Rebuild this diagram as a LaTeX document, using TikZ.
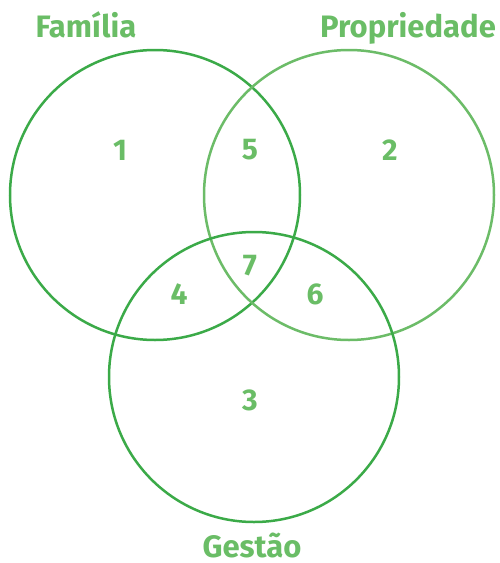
\documentclass[tikz,border=0pt]{standalone}
\usepackage{fontspec}
\setmainfont{Fira Sans}
\definecolor{txtgreen}{HTML}{6ABD66}
\definecolor{cgreenA}{HTML}{3BAA48}
\definecolor{cgreenB}{HTML}{6CBC68}
\definecolor{cgreenC}{HTML}{3BAA48}
\begin{document}
\begin{tikzpicture}[x=1pt,y=-1pt,
  ring/.style={line width=2.5pt},
  lbl/.style={text=txtgreen,font=\fontsize{31}{34}\selectfont\bfseries,inner sep=0pt,anchor=base},
  num/.style={text=txtgreen,font=\fontsize{30}{34}\selectfont\bfseries,inner sep=0pt}]
\useasboundingbox (0,0) rectangle (499,563);
\draw[ring,cgreenA] (155,195) circle (145);
\draw[ring,cgreenB] (349,195) circle (145);
\draw[ring,cgreenC] (254,377) circle (145);
\node[lbl] (fam) at (86,37) {Família};
\node[lbl] (prop) at (408,37) {Propriedade};
\node[lbl] (ges) at (252,557) {Gestão};
\node[num] (n1) at (120,150) {1};
\node[num] (n5) at (250,150) {5};
\node[num] (n2) at (390,150) {2};
\node[num] (n7) at (250,266) {7};
\node[num] (n4) at (179,294) {4};
\node[num] (n6) at (315,294) {6};
\node[num] (n3) at (250,400) {3};
\end{tikzpicture}
\end{document}
